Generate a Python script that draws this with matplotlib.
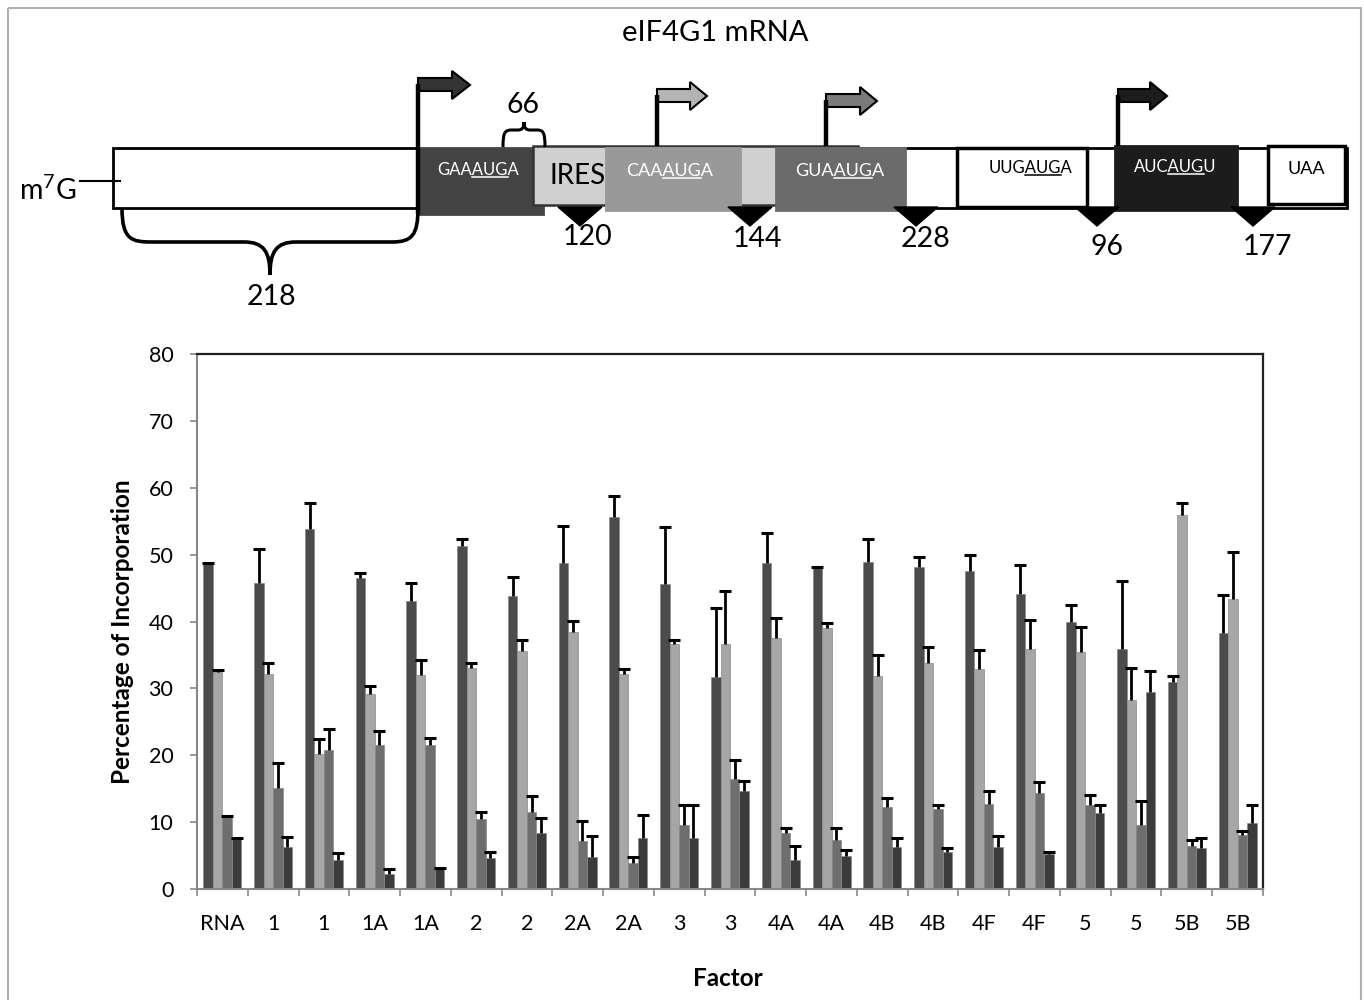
import matplotlib.pyplot as plt
import numpy as np
from matplotlib.patches import Rectangle, Polygon, PathPatch
from matplotlib.path import Path

plt.rcParams['font.family'] = ['Lato', 'DejaVu Sans']

# ---- bar chart data ----
factors = ["RNA", "1", "1", "1A", "1A", "2", "2", "2A", "2A", "3", "3",
           "4A", "4A", "4B", "4B", "4F", "4F", "5", "5", "5B", "5B"]

gaa_vals = [48.6, 45.7, 53.9, 46.5, 43.1, 51.3, 43.8, 48.8, 55.6, 45.6, 31.7,
            48.8, 48.0, 48.9, 48.2, 47.5, 44.1, 40.0, 35.9, 30.9, 38.3]
gaa_err = [0.2, 5.2, 3.8, 0.7, 2.7, 1.1, 2.9, 5.5, 3.2, 8.5, 10.3,
           4.4, 0.2, 3.4, 1.5, 2.4, 4.4, 2.5, 10.2, 0.9, 5.7]

caa_vals = [32.5, 32.2, 20.2, 29.2, 32.0, 33.1, 35.6, 38.4, 32.1, 36.7, 36.6,
            37.6, 39.1, 31.9, 33.8, 32.9, 35.9, 35.5, 28.3, 56.0, 43.3]
caa_err = [0.2, 1.6, 2.3, 1.1, 2.3, 0.7, 1.6, 1.7, 0.8, 0.6, 8.0,
           2.9, 0.7, 3.1, 2.4, 2.8, 4.3, 3.7, 4.7, 1.7, 7.1]

gua_vals = [10.7, 15.1, 20.8, 21.6, 21.5, 10.5, 11.5, 7.2, 3.9, 9.5, 16.4,
            8.4, 7.4, 12.3, 11.9, 12.7, 14.3, 12.5, 9.6, 6.4, 8.1]
gua_err = [0.2, 3.8, 3.1, 2.1, 1.1, 1.0, 2.4, 2.9, 0.9, 3.0, 2.9,
           0.7, 1.7, 1.3, 0.6, 1.9, 1.7, 1.5, 3.5, 0.9, 0.5]

auc_vals = [7.5, 6.3, 4.4, 2.3, 3.0, 4.7, 8.3, 4.8, 7.7, 7.7, 14.7,
            4.4, 5.0, 6.3, 5.6, 6.3, 5.2, 11.4, 29.5, 6.2, 9.8]
auc_err = [0.2, 1.5, 1.0, 0.7, 0.2, 0.9, 2.3, 3.2, 3.3, 4.8, 1.4,
           2.1, 0.9, 1.3, 0.6, 1.6, 0.3, 1.2, 3.1, 1.4, 2.7]

# ---- diagram labels ----
codons = ["GAAAUGA", "CAAAUGA", "GUAAUGA", "UUGAUGA", "AUCAUGU"]
gap_labels = ["120", "144", "228", "96", "177"]
utr_label = "218"
spacer_label = "66"

fig = plt.figure(figsize=(13.64, 10), dpi=100)

# ---------------- bar chart ----------------
ax = fig.add_axes([197 / 1364, 1 - 889 / 1000, (1263 - 197) / 1364, (889 - 354) / 1000])
series = [(gaa_vals, gaa_err, "#4b4b4b"), (caa_vals, caa_err, "#a6a6a6"),
          (gua_vals, gua_err, "#6e6e6e"), (auc_vals, auc_err, "#3b3b3b")]
x = np.arange(len(factors))
w = 0.187
for i, (vals, err, col) in enumerate(series):
    xs = x + (i - 1.5) * w
    vals = np.array(vals)
    tops = vals + np.array(err)
    ax.bar(xs, vals, w, color=col, edgecolor="#8a8a8a", linewidth=0.5, zorder=2)
    ax.vlines(xs, vals, tops, color="black", linewidth=2, zorder=3)
    ax.plot(xs, tops, ls="none", marker="_", ms=8, mew=2.2, color="black", zorder=3)

ax.set_xlim(-0.5, len(factors) - 0.5)
ax.set_ylim(0, 80)
ax.set_yticks(range(0, 81, 10))
ax.set_xticks(x)
ax.set_xticklabels(factors)
ax.set_xticks(np.arange(-0.5, len(factors), 1), minor=True)
ax.tick_params(axis="x", which="major", length=0, pad=18, labelsize=15.5, colors="black")
ax.tick_params(axis="x", which="minor", length=5, width=1.2, color="#888888")
ax.tick_params(axis="y", length=5, width=1.2, color="#888888", pad=12, labelsize=15.5)
for s in ["left", "bottom"]:
    ax.spines[s].set_color("#888888")
    ax.spines[s].set_linewidth(1.5)
for s in ["top", "right"]:
    ax.spines[s].set_color("#222222")
    ax.spines[s].set_linewidth(1.6)

fig.text(122 / 1364, 1 - 632 / 1000, "Percentage of Incorporation", rotation=90,
         ha="center", va="center", fontsize=17.5, fontweight="bold")
fig.text(728 / 1364, 1 - 978 / 1000, "Factor", ha="center", va="center",
         fontsize=17.5, fontweight="bold")

# ---------------- mRNA diagram (pixel coordinates) ----------------
dg = fig.add_axes([0, 0, 1, 1], zorder=5)
dg.set_xlim(0, 1364)
dg.set_ylim(1000, 0)
dg.axis("off")

# outer frame
dg.add_patch(Rectangle((8, 8), 1353, 1000, fill=False, edgecolor="#b0b0b0", lw=1.5))

dg.text(715, 33, "eIF4G1 mRNA", ha="center", va="center", fontsize=21)

# m7G cap
dg.text(48, 190, r"m$^{\mathregular{7}}$G", ha="center", va="center", fontsize=20.5)
dg.plot([80, 120], [181, 181], color="black", lw=1.5)


def box(x0, x1, y0, y1, face, edge=None, lw=2.0):
    dg.add_patch(Rectangle((x0, y0), x1 - x0, y1 - y0, facecolor=face,
                           edgecolor=edge if edge else face, lw=lw))


def flag(xs, ybase, ytop, face, shaft_end, tip):
    dg.plot([xs, xs], [ybase, ytop], color="black", lw=3.2, solid_capstyle="butt")
    pts = [(xs, ytop - 6), (shaft_end, ytop - 6), (shaft_end, ytop - 13),
           (tip, ytop + 1), (shaft_end, ytop + 15), (shaft_end, ytop + 7), (xs, ytop + 7)]
    dg.add_patch(Polygon(pts, closed=True, facecolor=face, edgecolor="black", lw=1.5))


# long white body and 5'UTR
box(855, 1347, 148, 208, "white", "black", 2)
box(113, 418, 148, 208, "white", "black", 2)
# GAAAUGA
box(420, 543, 148, 214, "#444444")
# IRES
box(533, 858, 146, 205, "#d0d0d0", "#333333", 1.8)
# CAAAUGA / GUAAUGA
box(606, 740, 148, 210, "#999999")
box(776, 905, 148, 210, "#6b6b6b")
# UUGAUGA, AUCAUGU, UAA
box(957, 1087, 148, 207, "white", "black", 2.5)
box(1115, 1237, 146, 210, "#1c1c1c")
box(1268, 1345, 146, 204, "white", "black", 2.5)

dg.text(578, 176, "IRES", ha="center", va="center", fontsize=20)

# start arrows
flag(418, 214, 84, "#333333", 452, 470)
flag(657, 146, 95, "#b4b4b4", 690, 707)
flag(826, 146, 100, "#7a7a7a", 860, 877)
flag(1118, 146, 95, "#1c1c1c", 1150, 1167)

renderer = fig.canvas.get_renderer()


def codon_text(xc, yc, s, color, size):
    t = dg.text(xc, yc, s, ha="center", va="center", color=color, fontsize=size)
    bb = t.get_window_extent(renderer)
    tmp = dg.text(0, 0, s[:3], fontsize=size)
    wp = tmp.get_window_extent(renderer).width
    tmp.set_text(s[3:6])
    wa = tmp.get_window_extent(renderer).width
    tmp.remove()
    yl = yc + bb.height * 0.42
    dg.plot([bb.x0 + wp, bb.x0 + wp + wa], [yl, yl], color=color, lw=1.1)


codon_text(478, 170, codons[0], "white", 12)
codon_text(670, 171, codons[1], "white", 13)
codon_text(840, 171, codons[2], "white", 13)
codon_text(1030, 168, codons[3], "black", 12)
codon_text(1175, 167, codons[4], "white", 12)
dg.text(1306, 169, "UAA", ha="center", va="center", fontsize=13)

# downstream triangles and gap labels
tri_x = [580, 750, 916, 1097, 1253]
lab_xy = [(588, 237), (757, 239), (925, 239), (1107, 247), (1267, 247)]
for cx, lab, (lx, ly) in zip(tri_x, gap_labels, lab_xy):
    dg.add_patch(Polygon([(cx - 22, 207), (cx + 22, 207), (cx, 226)], closed=True,
                         facecolor="black", edgecolor="black"))
    dg.text(lx, ly, lab, ha="center", va="center", fontsize=20.5)

# braces
big = Path([(122, 208), (122, 240), (132, 242), (152, 242), (244, 242),
            (264, 242), (270, 252), (270, 275),
            (270, 252), (276, 242), (296, 242), (392, 242),
            (412, 242), (418, 235), (418, 208)],
           [Path.MOVETO, Path.CURVE4, Path.CURVE4, Path.CURVE4, Path.LINETO,
            Path.CURVE4, Path.CURVE4, Path.CURVE4,
            Path.CURVE4, Path.CURVE4, Path.CURVE4, Path.LINETO,
            Path.CURVE4, Path.CURVE4, Path.CURVE4])
dg.add_patch(PathPatch(big, fill=False, lw=2.6, edgecolor="black"))
dg.text(271, 297, utr_label, ha="center", va="center", fontsize=20.5)

small = Path([(503, 147), (503, 132), (505, 130), (512, 130), (518, 130),
              (522, 130), (524, 128), (524, 122),
              (524, 128), (526, 130), (530, 130), (537, 130),
              (543, 130), (545, 132), (545, 147)],
             [Path.MOVETO, Path.CURVE4, Path.CURVE4, Path.CURVE4, Path.LINETO,
              Path.CURVE4, Path.CURVE4, Path.CURVE4,
              Path.CURVE4, Path.CURVE4, Path.CURVE4, Path.LINETO,
              Path.CURVE4, Path.CURVE4, Path.CURVE4])
dg.add_patch(PathPatch(small, fill=False, lw=2.2, edgecolor="black"))
dg.text(523, 105, spacer_label, ha="center", va="center", fontsize=20.5)

fig.savefig("out.png", dpi=100)
